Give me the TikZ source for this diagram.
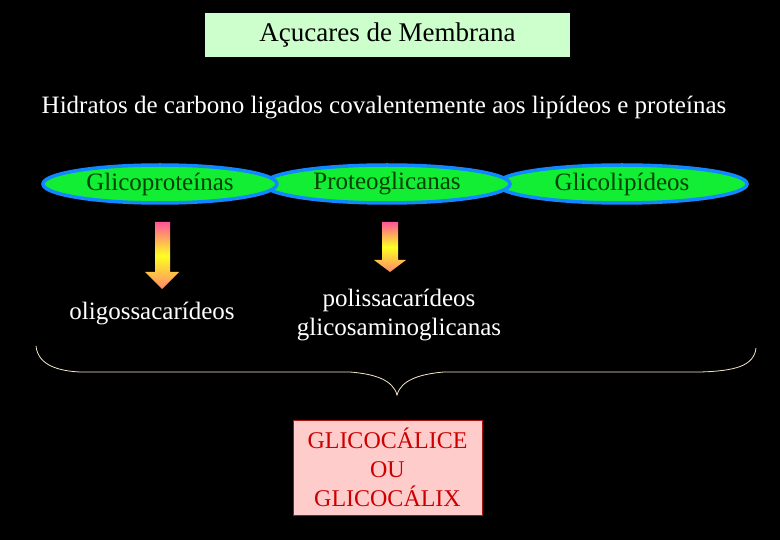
\documentclass[tikz,border=0pt]{standalone}
\usepackage{fontspec}
\setmainfont{Liberation Serif}
\usetikzlibrary{shapes.geometric}
\definecolor{titlebg}{HTML}{CCFFCC}
\definecolor{ellg}{HTML}{11EE33}
\definecolor{ellb}{HTML}{1188FF}
\definecolor{pinkA}{HTML}{FF5599}
\definecolor{yelA}{HTML}{FFFF22}
\definecolor{braceC}{HTML}{F5E6C8}
\definecolor{boxfill}{HTML}{FFCCCC}
\definecolor{boxtext}{HTML}{CC0000}
\definecolor{boxline}{HTML}{AA1111}
\begin{document}
\begin{tikzpicture}[x=1pt,y=-1pt,
  ell/.style={ellipse,minimum height=38pt,fill=ellg,draw=ellb,line width=3.5pt,font=\fontsize{25}{27}\selectfont,text=black!75!green,inner sep=0pt},
  wtxt/.style={text=white,font=\fontsize{25}{29}\selectfont,align=center},
  arr/.style={top color=pinkA,bottom color=pinkA!70!yellow,middle color=yelA}]
\useasboundingbox (0,0) rectangle (780,540);
\fill[black] (0,0) rectangle (780,540);
\node[fill=titlebg,minimum width=365pt,minimum height=44pt,inner sep=0pt,font=\fontsize{27}{29}\selectfont,text=black] (title) at (387.5,35) {Açucares de Membrana};
\node[wtxt] (sub) at (384,108) {Hidratos de carbono ligados covalentemente aos lipídeos e proteínas};
\node[ell,minimum width=250pt] (e3) at (622,184) {Glicolipídeos};
\node[ell,minimum width=246pt] (e2) at (387,184) {Proteoglicanas};
\node[ell,minimum width=234pt] (e1) at (160,184) {Glicoproteínas};
\shade[arr] (155,222) -- (170,222) -- (170,272) -- (179,272) -- (162,289) -- (145,272) -- (155,272) -- cycle;
\shade[arr] (382,222) -- (398,222) -- (398,260) -- (406,260) -- (390,272) -- (374,260) -- (382,260) -- cycle;
\node[wtxt] (o1) at (152,314) {oligossacarídeos};
\node[wtxt] (o2) at (399,315) {polissacarídeos\\glicosaminoglicanas};
\draw[braceC,line width=0.8pt] (36,346) .. controls (38,366) and (60,371) .. (80,372)
  -- (350,372) .. controls (375,374) and (393,380) .. (397,395)
  .. controls (401,380) and (420,374) .. (444,372)
  -- (700,372) .. controls (735,371) and (754,366) .. (756,348);
\coordinate (tip) at (397,395);
\node[fill=boxfill,draw=boxline,line width=1pt,minimum width=189pt,minimum height=95pt,text=boxtext,font=\fontsize{24}{29}\selectfont,align=center] (box) at (387.5,467.5) {GLICOCÁLICE\\OU\\GLICOCÁLIX};
\end{tikzpicture}
\end{document}
